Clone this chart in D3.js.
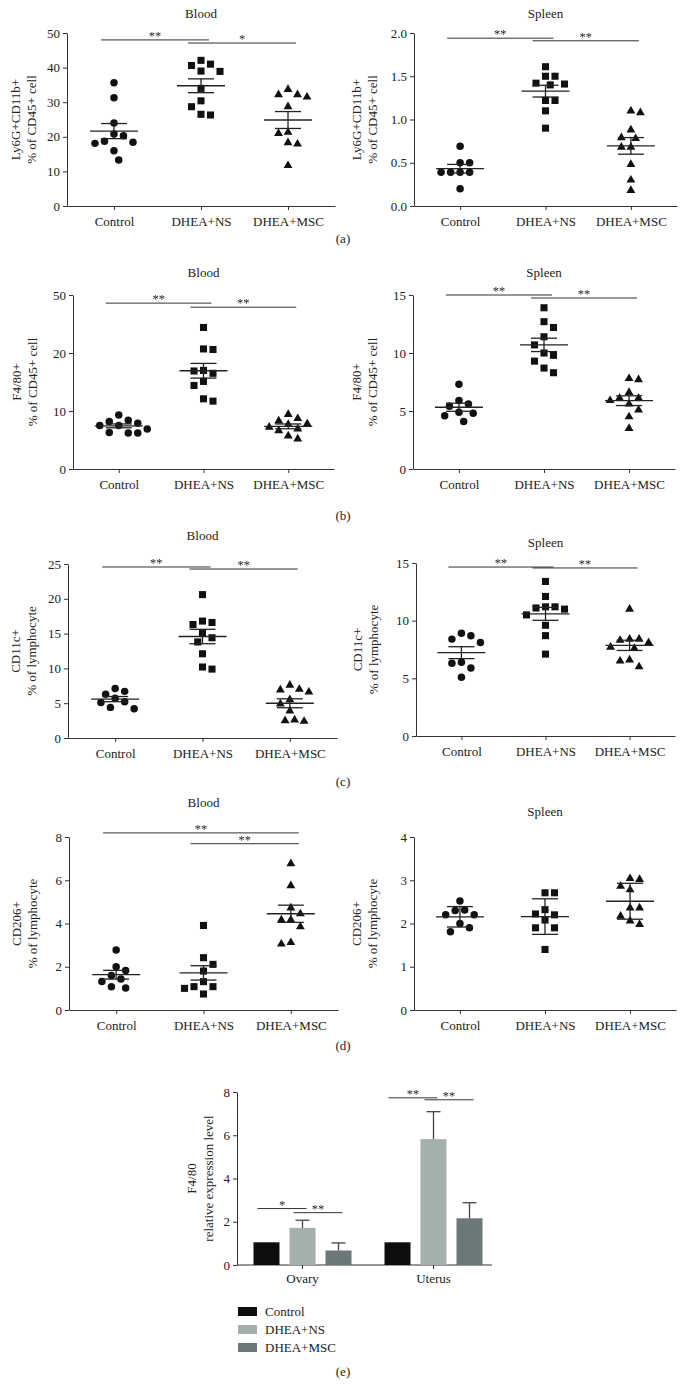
<!DOCTYPE html>
<html>
<head>
<meta charset="utf-8">
<script src="https://cdn.jsdelivr.net/npm/d3@7"></script>
<style>
  body { margin: 0; background: #fff; }
  text { font-family: "Liberation Serif", "DejaVu Serif", serif; fill: #222; }
</style>
</head>
<body>
<div id="chart"></div>
<script>
"use strict";

const groups = ["Control", "DHEA+NS", "DHEA+MSC"];

// (a) Ly6G+CD11b+
const aBloodControl = [35.6, 31.3, 24.0, 20.3, 20.8, 18.4, 18.1, 18.7, 16.0, 13.3];
const aBloodNS = [41.0, 42.1, 40.6, 39.0, 38.9, 34.0, 30.4, 28.7, 26.3, 26.5];
const aBloodMSC = [33.7, 31.5, 32.2, 32.2, 28.7, 21.0, 21.3, 18.3, 17.9, 11.7];
const aSpleenControl = [0.69, 0.50, 0.50, 0.39, 0.39, 0.39, 0.39, 0.20];
const aSpleenNS = [1.61, 1.50, 1.50, 1.40, 1.42, 1.41, 1.22, 1.22, 1.10, 0.90];
const aSpleenMSC = [1.08, 1.10, 0.88, 0.79, 0.78, 0.68, 0.68, 0.48, 0.30, 0.18];

// (b) F4/80+
const bBloodControl = [7.9, 7.5, 9.3, 8.4, 8.2, 7.5, 6.9, 6.3, 6.2, 6.2];
const bBloodNS = [24.4, 20.7, 20.6, 17.0, 16.9, 16.5, 15.1, 14.4, 11.7, 12.1];
const bBloodMSC = [8.7, 9.4, 7.7, 7.2, 7.8, 8.3, 6.6, 6.9, 5.2, 5.7];
const bSpleenControl = [7.3, 5.6, 5.9, 5.4, 4.8, 4.9, 4.6, 4.1];
const bSpleenNS = [13.9, 12.7, 12.2, 11.4, 10.7, 9.8, 10.0, 9.3, 8.7, 8.3];
const bSpleenMSC = [7.8, 7.7, 6.6, 6.1, 6.1, 5.9, 5.6, 5.1, 4.5, 3.5];

// (c) CD11c+
const cBloodControl = [6.7, 6.3, 7.1, 5.7, 5.1, 5.2, 4.2, 4.4];
const cBloodNS = [20.6, 16.6, 16.8, 16.3, 15.1, 14.4, 13.8, 12.1, 9.9, 10.2];
const cBloodMSC = [7.0, 6.6, 6.9, 7.6, 5.5, 4.9, 3.9, 2.5, 2.4, 2.6];
const cSpleenControl = [8.7, 8.1, 8.4, 8.9, 6.4, 6.3, 5.9, 5.1];
const cSpleenNS = [13.4, 12.1, 11.2, 11.0, 11.1, 11.2, 10.5, 9.6, 8.7, 7.1];
const cSpleenMSC = [11.0, 8.4, 8.3, 8.1, 8.4, 7.7, 7.6, 6.6, 6.5, 6.0];

// (d) CD206+
const dBloodControl = [2.77, 1.6, 2.0, 1.83, 1.32, 1.43, 1.02, 1.08];
const dBloodNS = [3.91, 2.42, 2.11, 1.8, 1.31, 1.08, 1.08, 1.0, 0.74];
const dBloodMSC = [6.77, 5.75, 4.72, 4.45, 4.17, 4.17, 3.85, 3.05, 3.12];
const dSpleenControl = [2.52, 2.3, 2.31, 2.2, 2.2, 2.0, 1.9, 1.81];
const dSpleenNS = [2.71, 2.71, 2.32, 2.2, 2.22, 2.08, 1.9, 1.9, 1.4];
const dSpleenMSC = [3.04, 3.02, 2.86, 2.78, 2.36, 2.36, 2.17, 1.98, 2.06];

// tick values (the top tick of panel b/Blood is printed "50" in the original)
const ticksA1 = [0, 10, 20, 30, 40, 50];
const ticksA2 = [0, 0.5, 1.0, 1.5, 2.0];
const ticksB1 = [0, 10, 20, 30];
const tickLabelsB1 = ["0", "10", "20", "50"];
const ticksB2 = [0, 5, 10, 15];
const ticksC1 = [0, 5, 10, 15, 20, 25];
const ticksC2 = [0, 5, 10, 15];
const ticksD1 = [0, 2, 4, 6, 8];
const ticksD2 = [0, 1, 2, 3, 4];

// significance bars: [from, to, level, label]
const sigA1 = [[0, 1, 48.0, "**"], [1, 2, 47.1, "*"]];
const sigA2 = [[0, 1, 1.94, "**"], [1, 2, 1.91, "**"]];
const sigB1 = [[0, 1, 28.6, "**"], [1, 2, 27.9, "**"]];
const sigB2 = [[0, 1, 15.0, "**"], [1, 2, 14.74, "**"]];
const sigC1 = [[0, 1, 24.57, "**"], [1, 2, 24.28, "**"]];
const sigC2 = [[0, 1, 14.65, "**"], [1, 2, 14.57, "**"]];
const sigD1 = [[0, 2, 8.19, "**"], [1, 2, 7.69, "**"]];
const sigD2 = [];

// (e) qPCR bars
const tissues = ["Ovary", "Uterus"];
const ovaryMean = [1.05, 1.72, 0.67];
const ovaryErr = [0, 0.35, 0.35];
const uterusMean = [1.05, 5.82, 2.16];
const uterusErr = [0, 1.27, 0.72];
const ticksE = [0, 2, 4, 6, 8];
const sigE = [[0, 0, 1, 2.61, "*"], [0, 1, 2, 2.42, "**"], [1, 0, 1, 7.73, "**"], [1, 1, 2, 7.64, "**"]];
const barColors = ["#0d0f0e", "#a4b0ae", "#6a7877"];

const FS = "13px";

const svg = d3.select("#chart").append("svg")
    .attr("width", 685)
    .attr("height", 1399);
svg.append("rect").attr("width", 685).attr("height", 1399).attr("fill", "#fff");

// identity filter: stars get rasterised in grayscale (no colour fringes)
svg.append("defs").append("filter").attr("id", "gray")
    .append("feColorMatrix").attr("type", "saturate").attr("values", 0);

const panels = [
  {data: [aBloodControl, aBloodNS, aBloodMSC], title: "Blood", ylab: ["Ly6G+CD11b+", "% of CD45+ cell"],
   ticks: ticksA1, fmt: d3.format("d"), sig: sigA1, x0: 67, x1: 335, top: 33, bot: 206, titleY: 18, labX: 24, err: "sem"},
  {data: [aSpleenControl, aSpleenNS, aSpleenMSC], title: "Spleen", ylab: ["Ly6G+CD11b+", "% of CD45+ cell"],
   ticks: ticksA2, fmt: d3.format(".1f"), sig: sigA2, x0: 414, x1: 677, top: 33, bot: 206, titleY: 18, labX: 365, err: "sem"},
  {data: [bBloodControl, bBloodNS, bBloodMSC], title: "Blood", ylab: ["F4/80+", "% of CD45+ cell"],
   ticks: ticksB1, fmt: (d, i) => tickLabelsB1[i], sig: sigB1, x0: 73, x1: 334, top: 295, bot: 469, titleY: 277, labX: 25, err: "sem"},
  {data: [bSpleenControl, bSpleenNS, bSpleenMSC], title: "Spleen", ylab: ["F4/80+", "% of CD45+ cell"],
   ticks: ticksB2, fmt: d3.format("d"), sig: sigB2, x0: 413, x1: 675, top: 295, bot: 469, titleY: 277, labX: 365, err: "sem"},
  {data: [cBloodControl, cBloodNS, cBloodMSC], title: "Blood", ylab: ["CD11c+", "% of lymphocyte"],
   ticks: ticksC1, fmt: d3.format("d"), sig: sigC1, x0: 68, x1: 337, top: 564, bot: 738, titleY: 540, labX: 24, err: "sem"},
  {data: [cSpleenControl, cSpleenNS, cSpleenMSC], title: "Spleen", ylab: ["CD11c+", "% of lymphocyte"],
   ticks: ticksC2, fmt: d3.format("d"), sig: sigC2, x0: 416, x1: 675, top: 563, bot: 736, titleY: 547, labX: 366, err: "sem"},
  {data: [dBloodControl, dBloodNS, dBloodMSC], title: "Blood", ylab: ["CD206+", "% of lymphocyte"],
   ticks: ticksD1, fmt: d3.format("d"), sig: sigD1, x0: 69, x1: 338, top: 837, bot: 1010, titleY: 807, labX: 25, err: "sem"},
  {data: [dSpleenControl, dSpleenNS, dSpleenMSC], title: "Spleen", ylab: ["CD206+", "% of lymphocyte"],
   ticks: ticksD2, fmt: d3.format("d"), sig: sigD2, x0: 414, x1: 676, top: 837, bot: 1010, titleY: 816, labX: 365, err: "sd"}
];

const symbols = [d3.symbolCircle, d3.symbolSquare, d3.symbolTriangle];
const symbolSizes = [44, 50, 34];

panels.forEach(p => drawScatter(p));
drawBars();

const letters = [["(a)", 243], ["(b)", 520], ["(c)", 786], ["(d)", 1050], ["(e)", 1376]];
svg.selectAll(".letter")
    .data(letters)
    .enter()
    .append("text")
    .attr("x", 343)
    .attr("y", d => d[1])
    .attr("text-anchor", "middle")
    .style("font-size", FS)
    .text(d => d[0]);

function swarm(vals, cx, y, minDist) {
  let placed = [];
  let out = new Array(vals.length);
  let order = vals.map((v, i) => i).sort((a, b) => vals[b] - vals[a]);
  let flip = 1;
  order.forEach(i => {
    let py = y(vals[i]);
    for (let k = 0; k < 60; k++) {
      let off = k === 0 ? 0 : flip * (k % 2 ? 1 : -1) * Math.ceil(k / 2) * (minDist / 2);
      let ok = placed.every(q => Math.hypot(q[0] - (cx + off), q[1] - py) >= minDist);
      if (ok) {
        out[i] = [cx + off, py];
        placed.push(out[i]);
        if (off !== 0) flip = -flip;
        break;
      }
    }
  });
  return out;
}

function styleAxis(a) {
  a.selectAll("path, line").attr("stroke", "#333").attr("stroke-width", 1);
  a.selectAll("text").style("font-size", FS).style("font-family", null).attr("fill", "#222");
}

function addSig(g, xa1, xa2, yy, label) {
  g.append("line")
      .attr("x1", xa1).attr("x2", xa2)
      .attr("y1", yy).attr("y2", yy)
      .attr("stroke", "#333").attr("stroke-width", 1);
  g.append("g").attr("filter", "url(#gray)")
    .append("text")
      .attr("x", (xa1 + xa2) / 2)
      .attr("y", yy)
      .attr("text-anchor", "middle")
      .style("font-size", "12.5px")
      .attr("fill", "#555")
      .text(label);
}

function drawScatter(p) {
  let g = svg.append("g");
  let yMax = p.ticks[p.ticks.length - 1];
  let y = d3.scaleLinear().domain([0, yMax]).range([p.bot, p.top]);
  let x = d3.scalePoint().domain(groups).range([p.x0, p.x1]).padding(0.54);

  let yAxis = d3.axisLeft(y).tickValues(p.ticks).tickFormat(p.fmt).tickSize(4).tickSizeOuter(0).tickPadding(3);
  let ya = g.append("g").attr("transform", "translate(" + p.x0 + ",0)").call(yAxis);
  let xAxis = d3.axisBottom(x).tickSize(4).tickSizeOuter(0).tickPadding(7);
  let xa = g.append("g").attr("transform", "translate(0," + p.bot + ")").call(xAxis);
  styleAxis(ya);
  styleAxis(xa);

  g.append("text")
      .attr("x", x(groups[1]))
      .attr("y", p.titleY)
      .attr("text-anchor", "middle")
      .style("font-size", FS)
      .text(p.title);

  g.selectAll(".ylab")
      .data(p.ylab)
      .enter()
      .append("text")
      .attr("transform", (d, i) => "translate(" + (p.labX - 4 + i * 16) + "," + ((p.top + p.bot) / 2) + ") rotate(-90)")
      .attr("text-anchor", "middle")
      .style("font-size", FS)
      .text(d => d);

  p.data.forEach((vals, gi) => {
    let cx = x(groups[gi]);
    let pts = swarm(vals, cx, y, 9.5);
    g.selectAll(".pt" + gi)
        .data(pts)
        .enter()
        .append("path")
        .attr("d", d3.symbol(symbols[gi], symbolSizes[gi]))
        .attr("transform", d => "translate(" + d[0] + "," + d[1] + ")")
        .attr("fill", "#111");

    let m = d3.mean(vals);
    let e = p.err === "sd" ? d3.deviation(vals) : d3.deviation(vals) / Math.sqrt(vals.length);
    let eg = g.append("g").attr("stroke", "#222").attr("stroke-width", 1.3);
    eg.append("line").attr("x1", cx - 24).attr("x2", cx + 24).attr("y1", y(m)).attr("y2", y(m));
    eg.append("line").attr("x1", cx).attr("x2", cx).attr("y1", y(m - e)).attr("y2", y(m + e));
    [m - e, m + e].forEach(v => {
      eg.append("line").attr("x1", cx - 13).attr("x2", cx + 13).attr("y1", y(v)).attr("y2", y(v));
    });
  });

  p.sig.forEach(s => {
    addSig(g, x(groups[s[0]]) - 13, x(groups[s[1]]) + 8, y(s[2]), s[3]);
  });
}

function drawBars() {
  let g = svg.append("g");
  let top = 1092, bot = 1265;
  let y = d3.scaleLinear().domain([0, 8]).range([bot, top]);
  let x0 = d3.scaleBand().domain(tissues).range([237, 499]);
  let x1 = d3.scaleBand().domain(groups).range([-54, 54]).paddingInner(10 / 36).paddingOuter(5 / 36);
  let means = [ovaryMean, uterusMean];
  let errs = [ovaryErr, uterusErr];

  let yAxis = d3.axisLeft(y).tickValues(ticksE).tickSize(4).tickSizeOuter(0).tickPadding(3);
  let ya = g.append("g").attr("transform", "translate(237,0)").call(yAxis);
  let xAxis = d3.axisBottom(x0).tickSize(4).tickSizeOuter(0).tickPadding(5);
  let xa = g.append("g").attr("transform", "translate(0," + bot + ")").call(xAxis);
  xa.select(".domain").attr("d", "M237,0H492");

  tissues.forEach((t, ti) => {
    let c = x0(t) + x0.bandwidth() / 2;
    groups.forEach((s, si) => {
      let bx = c + x1(s);
      let v = means[ti][si];
      g.append("rect")
          .attr("x", bx).attr("width", x1.bandwidth())
          .attr("y", y(v)).attr("height", bot - y(v))
          .attr("fill", barColors[si]);
      if (errs[ti][si] > 0) {
        let bc = bx + x1.bandwidth() / 2;
        g.append("line").attr("x1", bc).attr("x2", bc)
            .attr("y1", y(v)).attr("y2", y(v + errs[ti][si]))
            .attr("stroke", "#444").attr("stroke-width", 1.3);
        g.append("line").attr("x1", bc - 7).attr("x2", bc + 7)
            .attr("y1", y(v + errs[ti][si])).attr("y2", y(v + errs[ti][si]))
            .attr("stroke", "#444").attr("stroke-width", 1.3);
      }
    });
  });
  styleAxis(ya);
  styleAxis(xa);

  sigE.forEach(s => {
    let c = x0(tissues[s[0]]) + x0.bandwidth() / 2;
    let xa1 = c + x1(groups[s[1]]) + x1.bandwidth() / 2 - 9;
    let xa2 = c + x1(groups[s[2]]) + x1.bandwidth() / 2 + 4;
    addSig(g, xa1, xa2, y(s[3]), s[4]);
  });

  ["F4/80", "relative expression level"].forEach((t, i) => {
    g.append("text")
        .attr("transform", "translate(" + (196 + i * 17) + "," + ((top + bot) / 2) + ") rotate(-90)")
        .attr("text-anchor", "middle")
        .style("font-size", FS)
        .text(t);
  });

  let legend = g.selectAll(".legend")
      .data(groups)
      .enter()
      .append("g")
      .attr("transform", (d, i) => "translate(238," + (1307 + i * 18) + ")");
  legend.append("rect")
      .attr("width", 19).attr("height", 9)
      .attr("fill", (d, i) => barColors[i]);
  legend.append("text")
      .attr("x", 27).attr("y", 8.5)
      .style("font-size", FS)
      .text(d => d);
}
</script>
</body>
</html>
